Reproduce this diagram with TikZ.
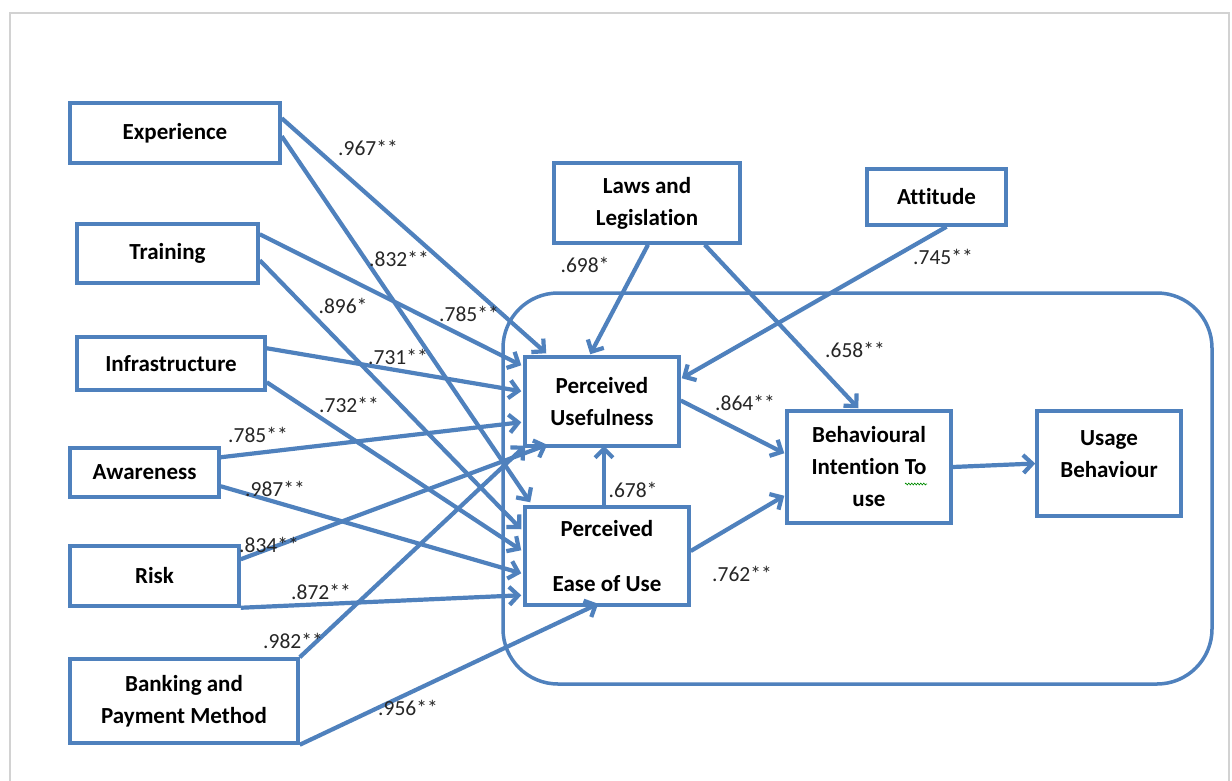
\documentclass[tikz,border=0pt]{standalone}
\usepackage{fontspec}
\setmainfont{Carlito}[Ligatures={NoCommon,NoContextual}, Contextuals=NoAlternate]
\usetikzlibrary{arrows.meta,decorations.pathmorphing}
\definecolor{edgeblue}{RGB}{79,129,189}

\begin{document}
\begin{tikzpicture}[x=1pt,y=-1pt,
  box/.style={draw=edgeblue, line width=3.5pt, fill=white, align=center,
    font=\fontsize{23}{32}\selectfont\bfseries, inner sep=0pt},
  link/.style={draw=edgeblue, line width=4.2pt,
    -{Straight Barb[length=9pt,width=18pt]}},
  coef/.style={font=\fontsize{21.5}{24}\selectfont, text=black!85, inner sep=0pt}]

\useasboundingbox (0,0) rectangle (1232,780);
\fill[white] (0,0) rectangle (1232,780);

% page frame
\draw[gray!35, line width=1.5pt] (10,800) -- (10,13) -- (1229,13) -- (1229,800);

% grouping frame around the core model
\node[draw=edgeblue, line width=3.5pt, rounded corners=55pt,
  minimum width=709pt, minimum height=391pt] (core) at (857.5,488.5) {};

% external factors
\node[box, minimum width=210pt, minimum height=60pt] (exp)   at (175,133)   {Experience};
\node[box, minimum width=181pt, minimum height=59pt] (train) at (167.5,253.5) {Training};
\node[box, minimum width=188pt, minimum height=53pt] (infra) at (171,363.5) {Infrastructure};
\node[box, minimum width=149pt, minimum height=49pt] (aware) at (144.5,472.5) {Awareness};
\node[box, minimum width=169pt, minimum height=60pt] (risk)  at (154.5,576) {Risk};
\node[box, minimum width=228pt, minimum height=84pt] (bank)  at (184,701)   {Banking and\\Payment Method};
\node[box, minimum width=186pt, minimum height=80pt] (laws)  at (647,203)   {Laws and\\Legislation};
\node[box, minimum width=139pt, minimum height=56pt] (att)   at (936.5,197) {Attitude};

% core constructs
\node[box, minimum width=154pt, minimum height=89pt] (pu)   at (602,401.5) {Perceived\\Usefulness};
\node[box, minimum width=164pt, minimum height=98pt] (peou) at (607,556)   {Perceived\\[23pt]Ease of Use};
\node[box, minimum width=164pt, minimum height=112pt] (bi)  at (869,467)   {Behavioural\\Intention To\\use};
\node[box, minimum width=144pt, minimum height=105pt] (ub)  at (1109,463.5) {Usage\\Behaviour\\[-14pt]\mbox{}};

% spell-check squiggle under "To"
\draw[green!55!black, line width=0.6pt, decorate,
  decoration={zigzag, amplitude=1pt, segment length=3pt}]
  ([xshift=36pt,yshift=-17pt]bi.center) -- ([xshift=58pt,yshift=-17pt]bi.center);

% paths
\draw[link] ([yshift=-17pt]exp.north east) -- ([xshift=23pt,yshift=2pt]pu.north west);
\draw[link] ([yshift=-35pt]exp.north east) -- ([xshift=7pt,yshift=3pt]peou.north west);
\draw[link] ([yshift=-12pt]train.north east) -- ([xshift=-2pt,yshift=-10pt]pu.north west);
\draw[link] ([yshift=-38pt]train.north east) -- ([xshift=-2pt,yshift=-24pt]peou.north west);
\draw[link] ([yshift=-13pt]infra.north east) -- ([xshift=-2pt,yshift=-36pt]pu.north west);
\draw[link] ([yshift=-47pt]infra.north east) -- ([xshift=-2pt,yshift=-45pt]peou.north west);
\draw[link] ([yshift=-11pt]aware.north east) -- ([xshift=-2pt,yshift=-67pt]pu.north west);
\draw[link] ([yshift=-40pt]aware.north east) -- ([xshift=-2pt,yshift=-68pt]peou.north west);
\draw[link] ([yshift=-15pt]risk.north east) -- ([xshift=24pt,yshift=3pt]pu.south west);
\draw[link] (risk.south east) -- ([xshift=-2pt,yshift=-90pt]peou.north west);
\draw[link] (bank.north east) -- ([xshift=2pt,yshift=2pt]pu.south west);
\draw[link] (bank.south east) -- ([xshift=75pt,yshift=3pt]peou.south west);
\draw[link] ([xshift=1pt]laws.south) -- ([xshift=67pt,yshift=1pt]pu.north west);
\draw[link] ([xshift=-37pt]laws.south east) -- ([xshift=73pt,yshift=1pt]bi.north west);
\draw[link] ([xshift=10pt]att.south) -- ([xshift=1pt,yshift=-23pt]pu.north east);
\draw[link] ([yshift=1pt]pu.east) -- ([xshift=-1pt,yshift=-44pt]bi.north west);
\draw[link] ([xshift=-3pt]peou.north) -- ([xshift=2pt,yshift=2pt]pu.south);
\draw[link] ([yshift=5pt]peou.east) -- ([xshift=-1pt,yshift=29pt]bi.south west);
\draw[link] (bi.east) -- (ub.west);

% path coefficients
\node[coef] (c967)  at (368,148) {.967**};
\node[coef] (c832)  at (399,259) {.832**};
\node[coef] (c785a) at (469,314) {.785**};
\node[coef] (c896)  at (343,306) {.896*};
\node[coef] (c731)  at (398,357) {.731**};
\node[coef] (c732)  at (349,405) {.732**};
\node[coef] (c785b) at (258,435) {.785**};
\node[coef] (c987)  at (275,489) {.987**};
\node[coef] (c834)  at (269,545) {.834**};
\node[coef] (c872)  at (321,592) {.872**};
\node[coef] (c982)  at (293,641) {.982**};
\node[coef] (c956)  at (408,708) {.956**};
\node[coef] (c698)  at (585,265) {.698*};
\node[coef] (c658)  at (855,350) {.658**};
\node[coef] (c745)  at (943,257) {.745**};
\node[coef] (c864)  at (745,403) {.864**};
\node[coef] (c678)  at (633,490) {.678*};
\node[coef] (c762)  at (742,574) {.762**};

\end{tikzpicture}
\end{document}
